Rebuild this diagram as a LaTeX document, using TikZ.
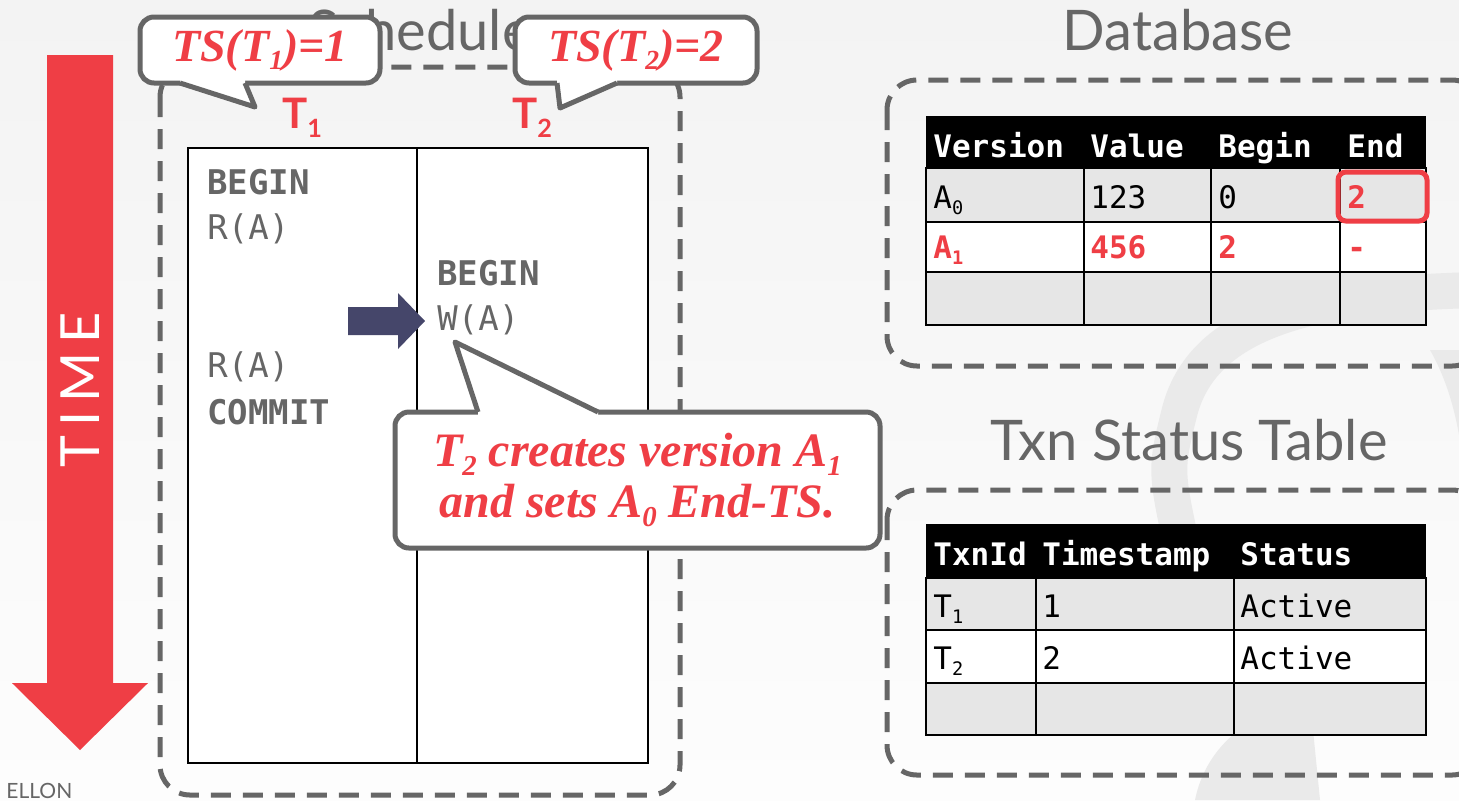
\documentclass[tikz,border=0pt]{standalone}
\usepackage{fontspec}
\setmainfont{Lato}
\newfontfamily\codefont{DejaVu Sans Mono}
\newfontfamily\notefont{Liberation Serif}
\definecolor{dbred}{HTML}{EF3E45}
\definecolor{linegray}{HTML}{666666}
\definecolor{cellgray}{HTML}{E6E6E6}
\definecolor{navy}{HTML}{45466A}
\definecolor{bgtop}{HTML}{F3F3F3}
\definecolor{bgbot}{HTML}{FDFDFD}
\definecolor{wmgray}{HTML}{EAEAEA}
\newcommand\tsub[1]{\raisebox{-0.4ex}{\scalebox{0.6}{#1}}}

\begin{document}
\begin{tikzpicture}[
             x                = 0.5pt,
             y                = -0.5pt,
             frame/.style     = {draw=linegray, line width=2.5pt, dash pattern=on 10pt off 6pt, rounded corners=15pt},
             title/.style     = {text=linegray, font=\fontsize{28pt}{32pt}\selectfont},
             bubble/.style    = {draw=linegray, fill=white, line width=2.5pt, rounded corners=7pt, inner sep=0pt,
                                 text=dbred, align=center, font=\notefont\bfseries\itshape\fontsize{23pt}{25pt}\selectfont},
             tail/.style      = {draw=linegray, line width=2.5pt, line join=round},
             op/.style        = {anchor=west, inner sep=0pt, text=linegray, font=\codefont\fontsize{17pt}{20pt}\selectfont},
             opbold/.style    = {op, font=\codefont\bfseries\fontsize{17pt}{20pt}\selectfont},
             cell/.style      = {anchor=base west, inner sep=0pt, font=\codefont\fontsize{15.5pt}{18pt}\selectfont},
             head/.style      = {cell, text=white, font=\codefont\bfseries\fontsize{15.5pt}{18pt}\selectfont},
             redcell/.style   = {cell, text=dbred, font=\codefont\bfseries\fontsize{15.5pt}{18pt}\selectfont},
             grid/.style      = {draw=black, line width=1.2pt}]
             \useasboundingbox (0,0) rectangle (1459,800);
             \shade [top color=bgtop, bottom color=bgbot] (0,0) rectangle (1459,800);
             % watermark
             \draw [wmgray, line width=18pt] (1475,290) .. controls (1320,294) and (1205,318) .. (1180,410)
                   .. controls (1165,470) .. (1185,560);
             \fill [wmgray] (1430,350) .. controls (1470,420) and (1470,520) .. (1459,600) -- (1459,350) -- cycle;
             \fill [wmgray] (1195,800) .. controls (1205,750) and (1245,712) .. (1310,700) -- (1320,800) -- cycle;

             % time arrow
             \fill [dbred] (47,55) -- (113,55) -- (113,683) -- (148,683) -- (80,750)
                   -- (12,683) -- (47,683) -- cycle;
             \node (time) [rotate=90, text=white, font=\fontsize{27pt}{30pt}\selectfont] at (80,390) {T\,I\,M\,E};
             \node (footer) [anchor=west, inner sep=0pt, text=linegray, font=\fontsize{10.5pt}{12pt}\selectfont] at (6,791) {ELLON};

             % schedule
             \node (sched) [title] at (420,30) {Schedule};
             \draw [frame] (160,67) rectangle (680,795);
             \node (t1) [text=dbred, font=\bfseries\fontsize{21pt}{24pt}\selectfont] at (302,118) {T\tsub{1}};
             \node (t2) [text=dbred, font=\bfseries\fontsize{21pt}{24pt}\selectfont] at (532,118) {T\tsub{2}};
             \draw [grid, line width=0.8pt, fill=white] (188,148) rectangle (648,763);
             \draw [grid, line width=0.8pt] (417,148) -- (417,763);
             \node (b1) [opbold] at (207,182) {BEGIN};
             \node (r1) [op] at (207,229) {R(A)};
             \node (r2) [op] at (207,367) {R(A)};
             \node (c1) [opbold] at (207,412) {COMMIT};
             \node (b2) [opbold] at (437,273) {BEGIN};
             \node (w2) [op] at (437,320) {W(A)};
             \fill [navy] (348,307) -- (398,307) -- (398,293) -- (425,321) -- (398,349)
                   -- (398,335) -- (348,335) -- cycle;

             % callouts
             \node (ts1) [bubble, minimum width=120pt, minimum height=33pt] at (260,50) {TS(T\tsub{1})=1};
             \fill [white] (180,79) -- (180,83) -- (255,107) -- (245,83) -- (245,79) -- cycle;
             \draw [tail] (180,83) -- (255,107) -- (245,83);
             \node (ts2) [bubble, minimum width=121pt, minimum height=33pt] at (636,50) {TS(T\tsub{2})=2};
             \fill [white] (557,79) -- (557,83) -- (560,108) -- (617,83) -- (617,79) -- cycle;
             \draw [tail] (557,83) -- (560,108) -- (617,83);
             \node (note) [bubble, minimum width=242.5pt, minimum height=68pt,
                   font=\notefont\bfseries\itshape\fontsize{24pt}{25.5pt}\selectfont] at (637.5,480)
                   {T\tsub{2} creates version A\tsub{1}\\and sets A\tsub{0} End-TS.};
             \fill [white] (478,416) -- (478,412) -- (455,342) -- (598,412) -- (598,416) -- cycle;
             \draw [tail] (478,412) -- (455,342) -- (598,412);

             % database
             \node (db) [title] at (1178,30) {Database};
             \draw [frame] (887,80) rectangle (1482,366);
             \fill [black] (926,116) rectangle (1426,168);
             \fill [cellgray] (926,168) rectangle (1426,222);
             \fill [white] (926,222) rectangle (1426,272);
             \fill [cellgray] (926,272) rectangle (1426,325);
             \draw [grid] (926,168) rectangle (1426,325);
             \draw [grid] (926,222) -- (1426,222) (926,272) -- (1426,272);
             \draw [grid] (1084,168) -- (1084,325) (1211,168) -- (1211,325) (1340,168) -- (1340,325);
             \node (hver) [head] at (933,157) {Version};
             \node (hval) [head] at (1090,157) {Value};
             \node (hbeg) [head] at (1218,157) {Begin};
             \node (hend) [head] at (1347,157) {End};
             \node (a0)   [cell] at (933,208) {A\tsub{0}};
             \node (v0)   [cell] at (1090,208) {123};
             \node (s0)   [cell] at (1218,208) {0};
             \node (e0)   [redcell] at (1347,208) {2};
             \node (a1)   [redcell] at (933,258) {A\tsub{1}};
             \node (v1)   [redcell] at (1090,258) {456};
             \node (s1)   [redcell] at (1218,258) {2};
             \node (e1)   [redcell] at (1347,258) {-};
             \draw [dbred, line width=2.5pt, rounded corners=4pt] (1338,172) rectangle (1427,221);

             % txn status table
             \node (txn) [title] at (1189,440) {Txn Status Table};
             \draw [frame] (887,490) rectangle (1482,775);
             \fill [black] (926,524) rectangle (1426,578);
             \fill [cellgray] (926,578) rectangle (1426,630);
             \fill [white] (926,630) rectangle (1426,683);
             \fill [cellgray] (926,683) rectangle (1426,735);
             \draw [grid] (926,578) rectangle (1426,735);
             \draw [grid] (926,630) -- (1426,630) (926,683) -- (1426,683);
             \draw [grid] (1036,578) -- (1036,735) (1234,578) -- (1234,735);
             \node (hid)  [head] at (933,565) {TxnId};
             \node (hts)  [head] at (1042,565) {Timestamp};
             \node (hst)  [head] at (1240,565) {Status};
             \node (id1)  [cell] at (933,617) {T\tsub{1}};
             \node (ts1v) [cell] at (1042,617) {1};
             \node (st1)  [cell] at (1240,617) {Active};
             \node (id2)  [cell] at (933,669) {T\tsub{2}};
             \node (ts2v) [cell] at (1042,669) {2};
             \node (st2)  [cell] at (1240,669) {Active};
    \end{tikzpicture}
\end{document}
